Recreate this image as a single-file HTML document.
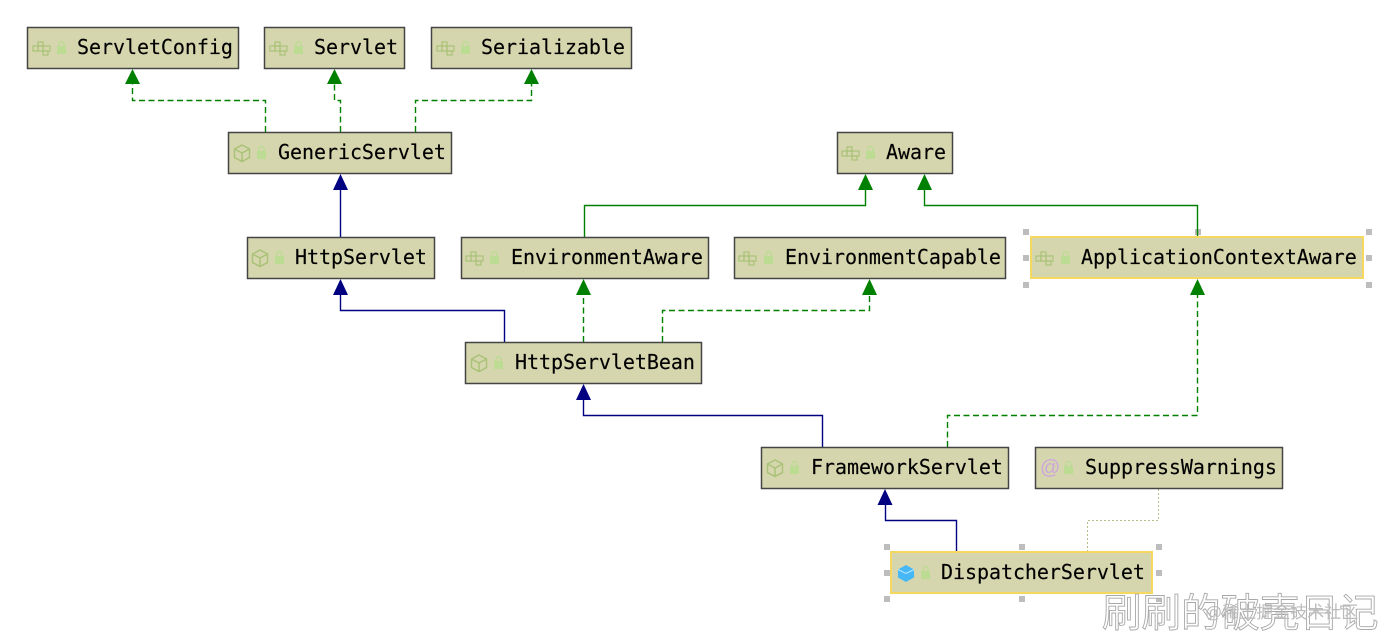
<!DOCTYPE html>
<html><head><meta charset="utf-8"><style>
html,body{margin:0;padding:0;background:#fff}
svg{display:block}
.b{fill:#d6d6ae;stroke:#444;stroke-width:1.5}
.s{fill:#d6d6ae;stroke:#f6d860;stroke-width:2}
.t{font:20px "DejaVu Sans Mono","Liberation Mono",monospace;fill:#000;letter-spacing:-0.05px;stroke:#000;stroke-width:.15}
.g{fill:none;stroke:#008000;stroke-width:1.4}
.d{stroke-dasharray:6 3.500}
.n{fill:none;stroke:#000080;stroke-width:1.4}
.ag{fill:#008000}.an{fill:#000080}
.h{fill:#bdbdbd}
.ic{fill:none;stroke:#a9c277;stroke-width:1.200}
.lk{fill:#bcdc94}
</style></head><body>
<svg width="1390" height="640" viewBox="0 0 1390 640" xmlns="http://www.w3.org/2000/svg">
<defs>
<g id="i"><g class="ic"><rect x="5" y="-6" width="5" height="4"/><rect x="0" y="-2" width="5" height="5"/><rect x="5" y="-2" width="5" height="5"/><rect x="10" y="-2" width="7" height="5"/><rect x="10" y="3" width="5" height="4"/></g></g>
<g id="c"><path class="ic" style="stroke-width:1.500" d="M8 -8l7.500 4v8.500l-7.500 4l-7.500 -4v-8.500z M0.500 -4l7.500 4l7.500 -4 M8 0v8.500"/></g>
<g id="l"><rect class="lk" x="0" y="-2" width="9" height="8"/><path d="M2 -2v-2a2.500 2.500 0 0 1 5 0v2" fill="none" stroke="#bcdc94" stroke-width="1.400"/></g>
</defs>

<!-- selection handles -->
<g class="h">
<rect x="1023" y="229" width="6" height="6"/><rect x="1195" y="229" width="6" height="6"/><rect x="1366" y="229" width="6" height="6"/>
<rect x="1023" y="255" width="6" height="6"/><rect x="1366" y="255" width="6" height="6"/>
<rect x="1023" y="282" width="6" height="6"/><rect x="1366" y="282" width="6" height="6"/>
<rect x="884" y="544" width="6" height="6"/><rect x="1019" y="544" width="6" height="6"/><rect x="1156" y="544" width="6" height="6"/>
<rect x="884" y="570" width="6" height="6"/><rect x="1156" y="570" width="6" height="6"/>
<rect x="884" y="596" width="6" height="6"/><rect x="1019" y="596" width="6" height="6"/><rect x="1156" y="596" width="6" height="6"/>
</g>

<!-- connectors -->
<path class="g d" d="M265.500 132V100.500H132.500V84"/>
<path class="g d" d="M340.500 132V100.500H334.500V84"/>
<path class="g d" d="M415.500 132V100.500H531.500V84"/>
<path class="n" d="M340.500 237V190"/>
<path class="g" d="M584.500 237V205.500H865.500V190"/>
<path class="g" d="M1197.500 237V205.500H924.500V190"/>
<path class="n" d="M504.500 342V310.500H340.500V295"/>
<path class="g d" d="M583.500 342V295"/>
<path class="g d" d="M662.500 342V310.500H869.500V295"/>
<path class="n" d="M822.500 447V415.500H583.500V400"/>
<path class="g d" d="M947.500 447V415.500H1197.500V295"/>
<path class="n" d="M956.500 552V520.500H885.500V505"/>
<path d="M1087.500 552V520.500H1158.500V489" fill="none" stroke="#b9b98a" stroke-width="1" stroke-dasharray="2 2"/>

<!-- arrowheads -->
<path class="ag" d="M132.500 69l7.500 15h-15z"/>
<path class="ag" d="M334.500 69l7.500 15h-15z"/>
<path class="ag" d="M531.500 69l7.500 15h-15z"/>
<path class="an" d="M340.500 174l7.500 16h-15z"/>
<path class="ag" d="M865.500 174l7.500 16h-15z"/>
<path class="ag" d="M924.500 174l7.500 16h-15z"/>
<path class="an" d="M340.500 279l7.500 16h-15z"/>
<path class="ag" d="M583.500 279l7.500 16h-15z"/>
<path class="ag" d="M869.500 279l7.500 16h-15z"/>
<path class="ag" d="M1197.500 279l7.500 16h-15z"/>
<path class="an" d="M583.500 384l7.500 16h-15z"/>
<path class="an" d="M885 489l7.500 16h-15z"/>

<!-- nodes -->
<rect class="b" x="27.500" y="27.500" width="211" height="41"/><use href="#i" x="33" y="48"/><use href="#l" x="57" y="48"/><text class="t" x="77" y="54">ServletConfig</text>
<rect class="b" x="264.500" y="27.500" width="140" height="41"/><use href="#i" x="270" y="48"/><use href="#l" x="294" y="48"/><text class="t" x="314" y="54">Servlet</text>
<rect class="b" x="431.500" y="27.500" width="200" height="41"/><use href="#i" x="437" y="48"/><use href="#l" x="461" y="48"/><text class="t" x="481" y="54">Serializable</text>
<rect class="b" x="228.500" y="132.500" width="223" height="41"/><use href="#c" x="234" y="153"/><use href="#l" x="257" y="153"/><text class="t" x="278" y="159">GenericServlet</text>
<rect class="b" x="837.500" y="132.500" width="115" height="41"/><use href="#i" x="842" y="153"/><use href="#l" x="866" y="153"/><text class="t" x="886" y="159">Aware</text>
<rect class="b" x="247.500" y="237.500" width="187" height="41"/><use href="#c" x="252" y="258"/><use href="#l" x="275" y="258"/><text class="t" x="295" y="264">HttpServlet</text>
<rect class="b" x="461.500" y="237.500" width="247" height="41"/><use href="#i" x="466" y="258"/><use href="#l" x="490" y="258"/><text class="t" x="511" y="264">EnvironmentAware</text>
<rect class="b" x="734.500" y="237.500" width="271" height="41"/><use href="#i" x="739" y="258"/><use href="#l" x="764" y="258"/><text class="t" x="785" y="264">EnvironmentCapable</text>
<rect class="s" x="1031" y="237" width="332" height="41"/><use href="#i" x="1036" y="258"/><use href="#l" x="1061" y="258"/><text class="t" x="1081" y="264">ApplicationContextAware</text>
<rect class="b" x="465.500" y="342.500" width="236" height="41"/><use href="#c" x="471" y="363"/><use href="#l" x="494" y="363"/><text class="t" x="515" y="369">HttpServletBean</text>
<rect class="b" x="761.500" y="447.500" width="247" height="41"/><use href="#c" x="767" y="468"/><use href="#l" x="790" y="468"/><text class="t" x="811" y="474">FrameworkServlet</text>
<rect class="b" x="1035.500" y="447.500" width="247" height="41"/>
<text x="1040" y="474" font-family="'Liberation Sans',sans-serif" font-size="20" fill="#cda6dc">@</text>
<use href="#l" x="1064" y="468"/><text class="t" x="1085" y="474">SuppressWarnings</text>
<rect class="s" x="891" y="552" width="261" height="41"/>
<path d="M906 565l8 4.500v8l-8 4.500l-8 -4.500v-8z" fill="#45b8f5"/><path d="M898 569.500l8 4l8 -4" fill="none" stroke="#bfe8fb" stroke-width="1"/>
<use href="#l" x="921" y="573"/><text class="t" x="941" y="579">DispatcherServlet</text>

<!-- watermark -->
<text x="1102" y="627" font-family="'Noto Sans CJK SC','WenQuanYi Zen Hei',sans-serif" font-size="39.500" fill="#fff" stroke="#a8a8a8" stroke-width="0.900">刷刷的破壳日记</text>
<text x="1205" y="618" font-family="'Liberation Sans','Noto Sans CJK SC',sans-serif" font-size="17" fill="#bbb">@稀土掘金技术社区</text>
</svg>
</body></html>
